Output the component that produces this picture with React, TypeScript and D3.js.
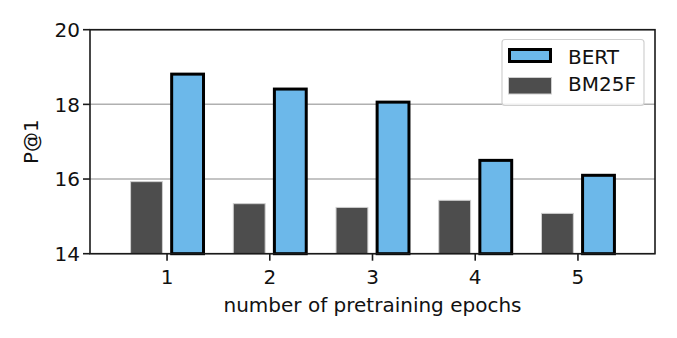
import React from 'react';
import * as d3 from 'd3';

const epochs = [1, 2, 3, 4, 5];
const bertValues = [18.81, 18.41, 18.06, 16.5, 16.1];
const bm25fValues = [15.93, 15.34, 15.24, 15.43, 15.08];
const yTicks = [14, 16, 18, 20];

const W = 677;
const H = 338;
const FONT = 'DejaVu Sans, sans-serif';

export default function App() {
  const left = 90, right = 655, top = 29.7, bottom = 253.7;

  const x = d3.scaleLinear().domain([0.25, 5.75]).range([left, right]);
  const y = d3.scaleLinear().domain([14, 20]).range([bottom, top]);

  const barW = x(0.31) - x(0);
  const off = x(0.2) - x(0);

  return (
    <svg width={W} height={H} style={{ position: 'absolute', left: 0, top: 0 }} fontFamily={FONT}>
      <rect width={W} height={H} fill="#fff" />
      {/* grid */}
      {yTicks.map(t => (
        <line key={'g' + t} x1={left} x2={right} y1={y(t)} y2={y(t)} stroke="#b0b0b0" strokeWidth={1.5} />
      ))}
      {/* BM25F bars */}
      {epochs.map((e, i) => (
        <rect key={'m' + e} x={x(e) - off - barW / 2} y={y(bm25fValues[i])} width={barW}
          height={y(14) - y(bm25fValues[i])} fill="#4d4d4d" stroke="#cfcfcf" strokeWidth={1} />
      ))}
      {/* BERT bars */}
      {epochs.map((e, i) => (
        <rect key={'b' + e} x={x(e) + off - barW / 2} y={y(bertValues[i])} width={barW}
          height={y(14) - y(bertValues[i])} fill="#6cb8ea" stroke="#000" strokeWidth={3} />
      ))}
      {/* spines */}
      <rect x={left} y={top} width={right - left} height={bottom - top} fill="none" stroke="#1a1a1a" strokeWidth={1.6} />
      {/* y ticks */}
      {yTicks.map(t => (
        <g key={'y' + t}>
          <line x1={left - 7} x2={left} y1={y(t)} y2={y(t)} stroke="#1a1a1a" strokeWidth={1.6} />
          <text x={left - 10} y={y(t)} dy="0.36em" textAnchor="end" fontSize={20} fill="#111">{t}</text>
        </g>
      ))}
      {/* x ticks */}
      {epochs.map(e => (
        <g key={'x' + e}>
          <line x1={x(e)} x2={x(e)} y1={bottom} y2={bottom + 7} stroke="#1a1a1a" strokeWidth={1.6} />
          <text x={x(e)} y={284} textAnchor="middle" fontSize={20} fill="#111">{e}</text>
        </g>
      ))}
      <text x={(left + right) / 2} y={312} textAnchor="middle" fontSize={20} fill="#111">number of pretraining epochs</text>
      <text transform={`translate(38,${(top + bottom) / 2}) rotate(-90)`} textAnchor="middle" fontSize={20} fill="#111">P@1</text>
      {/* legend */}
      <rect x={502} y={39.5} width={142} height={66} rx={3} fill="#fff" fillOpacity={0.8} stroke="#d0d0d0" strokeWidth={1.2} />
      <rect x={509.5} y={49.5} width={41} height={12} fill="#6cb8ea" stroke="#000" strokeWidth={3} />
      <rect x={508.5} y={77.5} width={43} height={16.5} fill="#4d4d4d" stroke="#cfcfcf" strokeWidth={1} />
      <text x={568} y={63.5} fontSize={20} fill="#111">BERT</text>
      <text x={568} y={91} fontSize={20} fill="#111">BM25F</text>
    </svg>
  );
}
